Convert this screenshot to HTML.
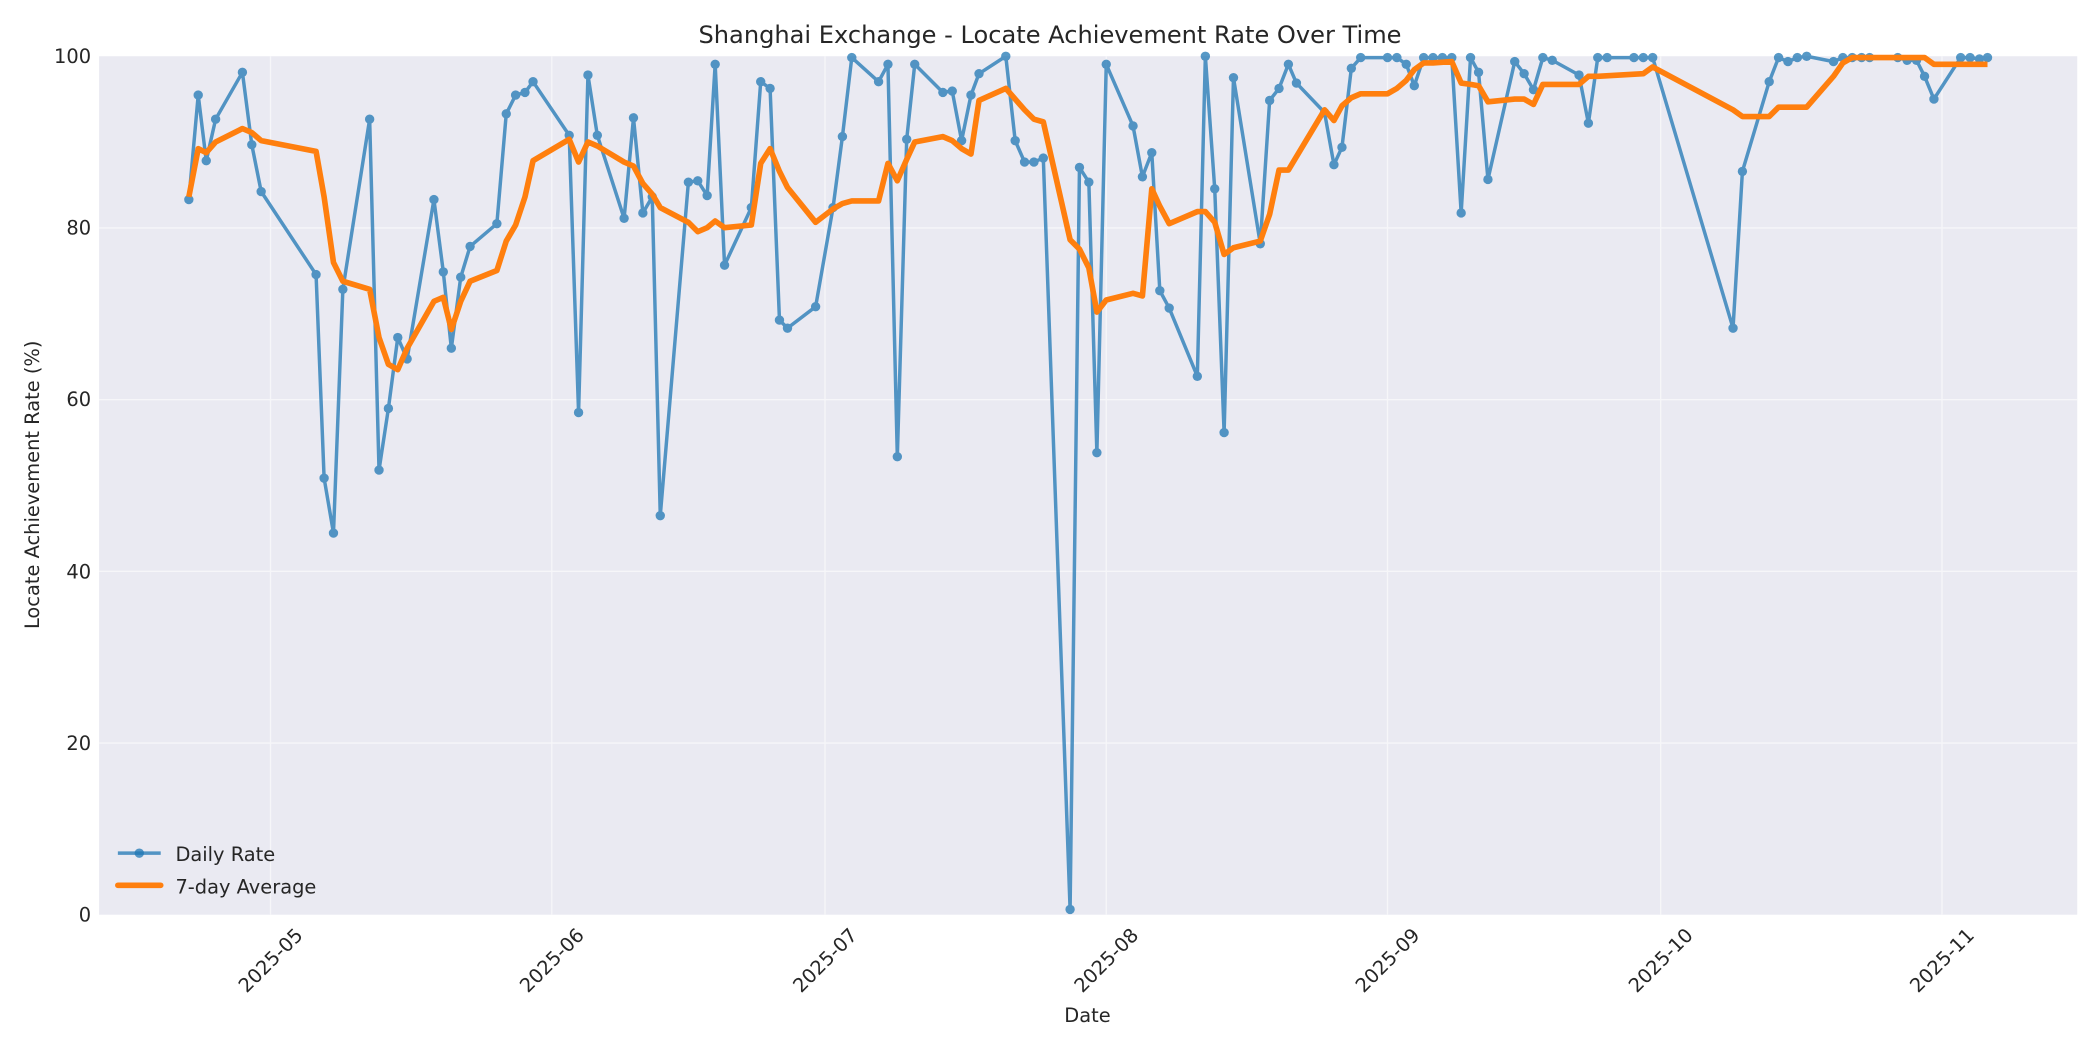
<!DOCTYPE html>
<html><head><meta charset="utf-8"><style>
html,body{margin:0;padding:0;background:#fff;}
svg{display:block;font-family:"DejaVu Sans","Liberation Sans",sans-serif;}
</style></head><body>
<svg width="2100" height="1050" viewBox="0 0 1568 784" xmlns="http://www.w3.org/2000/svg">
<rect x="0" y="0" width="1568" height="784" fill="#fff"/>
<rect x="74" y="42" width="1477" height="641" fill="#eaeaf2"/>
<g stroke="#f6f6f9" stroke-width="1">
<line x1="74" x2="1551" y1="554.8" y2="554.8"/><line x1="74" x2="1551" y1="426.6" y2="426.6"/>
<line x1="74" x2="1551" y1="298.4" y2="298.4"/><line x1="74" x2="1551" y1="170.2" y2="170.2"/>
<line x1="202" x2="202" y1="42" y2="683"/><line x1="412" x2="412" y1="42" y2="683"/>
<line x1="616" x2="616" y1="42" y2="683"/><line x1="826" x2="826" y1="42" y2="683"/>
<line x1="1036" x2="1036" y1="42" y2="683"/><line x1="1240" x2="1240" y1="42" y2="683"/>
<line x1="1450" x2="1450" y1="42" y2="683"/>
</g>
<text x="784" y="32" font-size="18" fill="#262626" text-anchor="middle">Shanghai Exchange - Locate Achievement Rate Over Time</text>
<g font-size="14.5" fill="#262626" text-anchor="end">
<text x="68" y="688">0</text><text x="68" y="560">20</text><text x="68" y="432">40</text>
<text x="68" y="303">60</text><text x="68" y="175">80</text><text x="68" y="47">100</text>
</g>
<g font-size="14.5" fill="#262626" text-anchor="middle">
<text transform="translate(202,717) rotate(-45)" dy="5">2025-05</text>
<text transform="translate(412,717) rotate(-45)" dy="5">2025-06</text>
<text transform="translate(616,717) rotate(-45)" dy="5">2025-07</text>
<text transform="translate(826,717) rotate(-45)" dy="5">2025-08</text>
<text transform="translate(1036,717) rotate(-45)" dy="5">2025-09</text>
<text transform="translate(1240,717) rotate(-45)" dy="5">2025-10</text>
<text transform="translate(1450,717) rotate(-45)" dy="5">2025-11</text>
<text x="812" y="763">Date</text>
<text transform="translate(29,362) rotate(-90)">Locate Achievement Rate (%)</text>
</g>
<g opacity="0.75">
<polyline fill="none" stroke="#1f77b4" stroke-width="2.6" stroke-linejoin="round" points="141,149 148,71 154,120 161,89 181,54 188,108 195,143 236,205 242,357 249,398 256,216 276,89 283,351 290,305 297,252 304,268 324,149 331,203 337,260 344,207 351,184 371,167 378,85 385,71 392,69 398,61 425,101 432,308 439,56 446,101 466,163 473,88 480,159 487,147 493,385 514,136 521,135 528,146 534,48 541,198 561,155 568,61 575,66 582,239 588,245 609,229 622,155 629,102 636,43 656,61 663,48 670,341 677,104 683,48 704,69 711,68 718,105 725,71 731,55 751,42 758,105 765,121 772,121 779,118 799,679 806,125 813,136 819,338 826,48 846,94 853,132 860,114 866,217 873,230 894,281 900,42 907,141 914,323 921,58 941,182 948,75 955,66 962,48 968,62 989,84 996,123 1002,110 1009,51 1016,43 1036,43 1043,43 1050,48 1056,64 1063,43 1070,43 1077,43 1084,43 1091,159 1098,43 1104,54 1111,134 1131,46 1138,55 1145,67 1152,43 1159,45 1179,56 1186,92 1193,43 1200,43 1220,43 1227,43 1234,43 1294,245 1301,128 1321,61 1328,43 1335,46 1342,43 1349,42 1369,46 1376,43 1383,43 1390,43 1396,43 1417,43 1424,45 1431,45 1437,57 1444,74 1464,43 1471,43 1478,44 1484,43"/>
<g fill="#1f77b4" id="m">
<circle cx="141" cy="149" r="3.5"/><circle cx="148" cy="71" r="3.5"/><circle cx="154" cy="120" r="3.5"/><circle cx="161" cy="89" r="3.5"/><circle cx="181" cy="54" r="3.5"/><circle cx="188" cy="108" r="3.5"/><circle cx="195" cy="143" r="3.5"/><circle cx="236" cy="205" r="3.5"/><circle cx="242" cy="357" r="3.5"/><circle cx="249" cy="398" r="3.5"/><circle cx="256" cy="216" r="3.5"/><circle cx="276" cy="89" r="3.5"/><circle cx="283" cy="351" r="3.5"/><circle cx="290" cy="305" r="3.5"/><circle cx="297" cy="252" r="3.5"/><circle cx="304" cy="268" r="3.5"/><circle cx="324" cy="149" r="3.5"/><circle cx="331" cy="203" r="3.5"/><circle cx="337" cy="260" r="3.5"/><circle cx="344" cy="207" r="3.5"/><circle cx="351" cy="184" r="3.5"/><circle cx="371" cy="167" r="3.5"/><circle cx="378" cy="85" r="3.5"/><circle cx="385" cy="71" r="3.5"/><circle cx="392" cy="69" r="3.5"/><circle cx="398" cy="61" r="3.5"/><circle cx="425" cy="101" r="3.5"/><circle cx="432" cy="308" r="3.5"/><circle cx="439" cy="56" r="3.5"/><circle cx="446" cy="101" r="3.5"/><circle cx="466" cy="163" r="3.5"/><circle cx="473" cy="88" r="3.5"/><circle cx="480" cy="159" r="3.5"/><circle cx="487" cy="147" r="3.5"/><circle cx="493" cy="385" r="3.5"/><circle cx="514" cy="136" r="3.5"/><circle cx="521" cy="135" r="3.5"/><circle cx="528" cy="146" r="3.5"/><circle cx="534" cy="48" r="3.5"/><circle cx="541" cy="198" r="3.5"/><circle cx="561" cy="155" r="3.5"/><circle cx="568" cy="61" r="3.5"/><circle cx="575" cy="66" r="3.5"/><circle cx="582" cy="239" r="3.5"/><circle cx="588" cy="245" r="3.5"/><circle cx="609" cy="229" r="3.5"/><circle cx="622" cy="155" r="3.5"/><circle cx="629" cy="102" r="3.5"/><circle cx="636" cy="43" r="3.5"/><circle cx="656" cy="61" r="3.5"/><circle cx="663" cy="48" r="3.5"/><circle cx="670" cy="341" r="3.5"/><circle cx="677" cy="104" r="3.5"/><circle cx="683" cy="48" r="3.5"/><circle cx="704" cy="69" r="3.5"/><circle cx="711" cy="68" r="3.5"/><circle cx="718" cy="105" r="3.5"/><circle cx="725" cy="71" r="3.5"/><circle cx="731" cy="55" r="3.5"/><circle cx="751" cy="42" r="3.5"/><circle cx="758" cy="105" r="3.5"/><circle cx="765" cy="121" r="3.5"/><circle cx="772" cy="121" r="3.5"/><circle cx="779" cy="118" r="3.5"/><circle cx="799" cy="679" r="3.5"/><circle cx="806" cy="125" r="3.5"/><circle cx="813" cy="136" r="3.5"/><circle cx="819" cy="338" r="3.5"/><circle cx="826" cy="48" r="3.5"/><circle cx="846" cy="94" r="3.5"/><circle cx="853" cy="132" r="3.5"/><circle cx="860" cy="114" r="3.5"/><circle cx="866" cy="217" r="3.5"/><circle cx="873" cy="230" r="3.5"/><circle cx="894" cy="281" r="3.5"/><circle cx="900" cy="42" r="3.5"/><circle cx="907" cy="141" r="3.5"/><circle cx="914" cy="323" r="3.5"/><circle cx="921" cy="58" r="3.5"/><circle cx="941" cy="182" r="3.5"/><circle cx="948" cy="75" r="3.5"/><circle cx="955" cy="66" r="3.5"/><circle cx="962" cy="48" r="3.5"/><circle cx="968" cy="62" r="3.5"/><circle cx="989" cy="84" r="3.5"/><circle cx="996" cy="123" r="3.5"/><circle cx="1002" cy="110" r="3.5"/><circle cx="1009" cy="51" r="3.5"/><circle cx="1016" cy="43" r="3.5"/><circle cx="1036" cy="43" r="3.5"/><circle cx="1043" cy="43" r="3.5"/><circle cx="1050" cy="48" r="3.5"/><circle cx="1056" cy="64" r="3.5"/><circle cx="1063" cy="43" r="3.5"/><circle cx="1070" cy="43" r="3.5"/><circle cx="1077" cy="43" r="3.5"/><circle cx="1084" cy="43" r="3.5"/><circle cx="1091" cy="159" r="3.5"/><circle cx="1098" cy="43" r="3.5"/><circle cx="1104" cy="54" r="3.5"/><circle cx="1111" cy="134" r="3.5"/><circle cx="1131" cy="46" r="3.5"/><circle cx="1138" cy="55" r="3.5"/><circle cx="1145" cy="67" r="3.5"/><circle cx="1152" cy="43" r="3.5"/><circle cx="1159" cy="45" r="3.5"/><circle cx="1179" cy="56" r="3.5"/><circle cx="1186" cy="92" r="3.5"/><circle cx="1193" cy="43" r="3.5"/><circle cx="1200" cy="43" r="3.5"/><circle cx="1220" cy="43" r="3.5"/><circle cx="1227" cy="43" r="3.5"/><circle cx="1234" cy="43" r="3.5"/><circle cx="1294" cy="245" r="3.5"/><circle cx="1301" cy="128" r="3.5"/><circle cx="1321" cy="61" r="3.5"/><circle cx="1328" cy="43" r="3.5"/><circle cx="1335" cy="46" r="3.5"/><circle cx="1342" cy="43" r="3.5"/><circle cx="1349" cy="42" r="3.5"/><circle cx="1369" cy="46" r="3.5"/><circle cx="1376" cy="43" r="3.5"/><circle cx="1383" cy="43" r="3.5"/><circle cx="1390" cy="43" r="3.5"/><circle cx="1396" cy="43" r="3.5"/><circle cx="1417" cy="43" r="3.5"/><circle cx="1424" cy="45" r="3.5"/><circle cx="1431" cy="45" r="3.5"/><circle cx="1437" cy="57" r="3.5"/><circle cx="1444" cy="74" r="3.5"/><circle cx="1464" cy="43" r="3.5"/><circle cx="1471" cy="43" r="3.5"/><circle cx="1478" cy="44" r="3.5"/><circle cx="1484" cy="43" r="3.5"/>
</g>
</g>
<polyline fill="none" stroke="#ff7f0e" stroke-width="4.2" stroke-linejoin="round" points="141,147 148,111 154,114 161,106 181,96 188,99 195,105 236,113 242,147 249,196 256,210 276,216 283,252 290,272 297,276 304,260 324,225 331,222 337,246 344,225 351,210 371,202 378,180 385,168 392,147 398,120 425,104 432,121 439,106 446,109 466,121 473,124 480,137 487,145 493,155 514,166 521,173 528,170 534,165 541,170 561,168 568,122 575,111 582,128 588,140 609,166 622,156 629,152 636,150 656,150 663,122 670,135 677,119 683,106 704,102 711,105 718,111 725,115 731,75 751,66 758,74 765,82 772,89 779,91 799,179 806,186 813,200 819,233 826,224 846,219 853,221 860,141 866,154 873,167 894,158 900,158 907,166 914,190 921,185 941,180 948,160 955,127 962,127 989,82 996,90 1002,79 1009,73 1016,70 1036,70 1043,66 1050,60 1056,52 1063,47 1070,47 1084,46 1091,62 1098,63 1104,64 1111,76 1131,74 1138,74 1145,78 1152,63 1159,63 1179,63 1186,57 1193,57 1227,55 1234,50 1294,82 1301,87 1321,87 1328,80 1335,80 1349,80 1369,57 1376,47 1383,43 1390,43 1396,43 1417,43 1431,43 1437,43 1444,48 1464,48 1484,48"/>
<line x1="88" x2="120" y1="637" y2="637" stroke="#1f77b4" stroke-opacity="0.75" stroke-width="2.6"/>
<circle cx="104" cy="637" r="3.5" fill="#1f77b4" fill-opacity="0.75"/>
<line x1="88" x2="120" y1="661" y2="661" stroke="#ff7f0e" stroke-width="4.2" stroke-linecap="round"/>
<text x="131" y="643" font-size="14.5" fill="#262626">Daily Rate</text>
<text x="131" y="667" font-size="14.5" fill="#262626">7-day Average</text>
</svg>
</body></html>
